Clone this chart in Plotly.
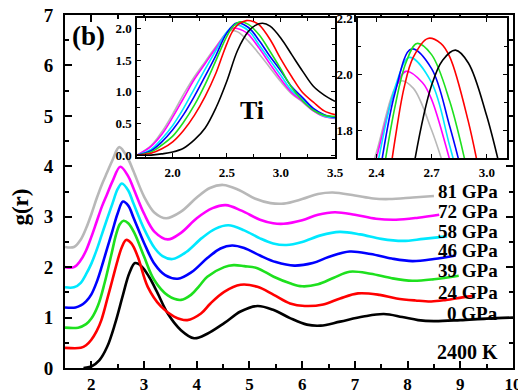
import plotly.graph_objects as go

# ---------------- data ----------------
labels = ["0 GPa", "24 GPa", "39 GPa", "46 GPa", "58 GPa", "72 GPa", "81 GPa"]
offsets = [0.0, 0.4, 0.8, 1.2, 1.6, 2.0, 2.4]
colors = ["#000000", "#ff0000", "#1ee01e", "#0000ff", "#00e8ff", "#ff00ff", "#b8b8b8"]

# main panel g(r) (before vertical offset)
r_0 = [1.85, 2.0, 2.15, 2.3, 2.45, 2.6, 2.72, 2.83, 2.95, 3.1, 3.25, 3.45, 3.7, 3.95, 4.2, 4.52, 4.83, 5.15,
       5.46, 5.77, 6.09, 6.35, 6.72, 7.16, 7.55, 7.9, 8.2, 8.5, 9.0, 9.5, 10.0]
g_0 = [0.0, 0.03, 0.15, 0.42, 0.88, 1.45, 1.88, 2.08, 2.02, 1.80, 1.50, 1.08, 0.75, 0.59, 0.68, 0.89, 1.12, 1.23,
       1.15, 0.99, 0.86, 0.84, 0.92, 1.02, 1.07, 1.01, 0.95, 0.93, 0.95, 0.98, 1.0]

r_24 = [1.5, 1.8, 1.9, 2.0, 2.1, 2.19, 2.31, 2.4, 2.5, 2.58, 2.66, 2.76, 2.88, 3.07, 3.32, 3.57, 3.82, 4.08, 4.26,
        4.52, 4.83, 5.15, 5.46, 5.77, 6.05, 6.4, 6.72, 7.06, 7.47, 7.79, 8.15, 8.45, 8.73, 9.04, 9.26]
g_24 = [0.0, 0.0, 0.05, 0.16, 0.33, 0.55, 1.0, 1.35, 1.74, 2.0, 2.14, 2.07, 1.81, 1.21, 0.82, 0.62, 0.55, 0.68, 0.88,
        1.11, 1.25, 1.21, 1.05, 0.88, 0.83, 0.86, 0.98, 1.08, 1.05, 0.98, 0.94, 0.92, 0.95, 1.0, 1.03]

r_39 = [1.5, 1.75, 1.9, 2.0, 2.13, 2.25, 2.38, 2.47, 2.54, 2.61, 2.7, 2.82, 3.0, 3.19, 3.45, 3.70, 3.89, 4.05, 4.2,
        4.52, 4.70, 4.9, 5.15, 5.46, 5.77, 6.0, 6.3, 6.6, 6.9, 7.3, 7.7, 8.09, 8.5, 8.97]
g_39 = [0.0, 0.0, 0.07, 0.18, 0.45, 0.88, 1.45, 1.85, 2.05, 2.12, 2.07, 1.87, 1.41, 0.95, 0.64, 0.55, 0.65, 0.83, 1.01,
        1.20, 1.24, 1.22, 1.18, 1.01, 0.88, 0.82, 0.86, 0.99, 1.11, 1.07, 0.98, 0.93, 0.96, 1.03]

r_46 = [1.5, 1.7, 1.8, 1.9, 2.0, 2.1, 2.2, 2.3, 2.4, 2.5, 2.6, 2.7, 2.8, 3.0, 3.2, 3.4, 3.64, 3.9, 4.2, 4.45, 4.67,
        4.9, 5.2, 5.5, 5.85, 6.2, 6.5, 6.9, 7.3, 7.7, 8.09, 8.5, 8.91]
g_46 = [0.0, 0.0, 0.04, 0.12, 0.26, 0.5, 0.82, 1.17, 1.52, 1.87, 2.10, 2.02, 1.78, 1.28, 0.86, 0.64, 0.57, 0.70, 0.98,
        1.17, 1.23, 1.18, 1.03, 0.90, 0.83, 0.88, 1.0, 1.11, 1.06, 0.97, 0.92, 0.96, 1.03]

r_58 = [1.5, 1.67, 1.8, 1.9, 2.0, 2.1, 2.2, 2.3, 2.4, 2.5, 2.58, 2.7, 2.8, 3.0, 3.2, 3.35, 3.54, 3.8, 4.1, 4.35, 4.6,
        4.9, 5.2, 5.45, 5.7, 6.0, 6.35, 6.71, 7.1, 7.5, 7.91, 8.3, 8.75]
g_58 = [0.0, 0.0, 0.09, 0.26, 0.47, 0.74, 1.05, 1.36, 1.66, 1.95, 2.06, 1.92, 1.66, 1.16, 0.78, 0.62, 0.56, 0.70, 0.98,
        1.16, 1.23, 1.13, 0.97, 0.87, 0.84, 0.90, 1.03, 1.10, 1.05, 0.96, 0.92, 0.96, 1.01]

r_72 = [1.5, 1.67, 1.8, 1.9, 2.0, 2.1, 2.2, 2.3, 2.4, 2.55, 2.7, 2.8, 3.0, 3.2, 3.45, 3.7, 4.0, 4.3, 4.55, 4.85,
        5.2, 5.45, 5.65, 6.0, 6.3, 6.62, 7.0, 7.4, 7.78, 8.2, 8.6]
g_72 = [0.0, 0.0, 0.14, 0.33, 0.6, 0.9, 1.2, 1.45, 1.7, 1.99, 1.8, 1.56, 1.06, 0.70, 0.55, 0.68, 0.97, 1.17, 1.23, 1.12,
        0.94, 0.87, 0.86, 0.93, 1.04, 1.09, 1.04, 0.96, 0.94, 0.98, 1.04]

r_81 = [1.5, 1.67, 1.8, 1.9, 2.0, 2.1, 2.2, 2.3, 2.4, 2.53, 2.7, 2.8, 3.0, 3.2, 3.42, 3.7, 4.0, 4.25, 4.5, 4.8,
        5.1, 5.4, 5.65, 6.0, 6.3, 6.58, 7.0, 7.35, 7.65, 8.1, 8.5]
g_81 = [0.0, 0.0, 0.15, 0.37, 0.65, 0.96, 1.24, 1.48, 1.72, 1.98, 1.74, 1.50, 1.0, 0.68, 0.57, 0.70, 0.98, 1.17, 1.23,
        1.13, 0.96, 0.87, 0.86, 0.95, 1.05, 1.08, 1.02, 0.96, 0.95, 0.98, 1.01]

# inset: first peak (no offset)
ir_0 = [1.67, 1.8, 1.9, 2.0, 2.1, 2.2, 2.3, 2.4, 2.5, 2.6, 2.7, 2.76, 2.83, 2.9, 3.0, 3.1, 3.2, 3.3, 3.4, 3.5]
ig_0 = [0.0, 0.0, 0.02, 0.05, 0.11, 0.24, 0.43, 0.75, 1.17, 1.66, 1.96, 2.05, 2.086, 2.04, 1.85, 1.59, 1.33, 1.09, 0.95, 0.85]

ir_24 = [1.67, 1.8, 1.9, 2.0, 2.1, 2.2, 2.3, 2.4, 2.46, 2.5, 2.55, 2.6, 2.68, 2.75, 2.8, 2.9, 3.0, 3.1, 3.2, 3.3, 3.4, 3.5]
ig_24 = [0.0, 0.03, 0.10, 0.21, 0.39, 0.63, 0.93, 1.30, 1.58, 1.76, 1.95, 2.06, 2.128, 2.11, 2.06, 1.83, 1.52, 1.24, 0.99, 0.84, 0.70, 0.64]

ir_39 = [1.67, 1.8, 1.9, 2.0, 2.1, 2.2, 2.3, 2.4, 2.5, 2.56, 2.62, 2.7, 2.8, 2.9, 3.0, 3.1, 3.2, 3.3, 3.4, 3.5]
ig_39 = [0.0, 0.05, 0.16, 0.30, 0.52, 0.79, 1.12, 1.50, 1.88, 2.04, 2.11, 2.07, 1.90, 1.64, 1.36, 1.07, 0.86, 0.71, 0.63, 0.61]

ir_46 = [1.67, 1.8, 1.9, 2.0, 2.1, 2.2, 2.3, 2.4, 2.5, 2.59, 2.7, 2.8, 2.9, 3.0, 3.1, 3.2, 3.3, 3.4, 3.5]
ig_46 = [0.0, 0.07, 0.21, 0.40, 0.64, 0.93, 1.25, 1.58, 1.93, 2.09, 2.02, 1.81, 1.56, 1.33, 1.08, 0.91, 0.74, 0.64, 0.60]

ir_58 = [1.67, 1.8, 1.9, 2.0, 2.1, 2.2, 2.3, 2.4, 2.5, 2.58, 2.7, 2.8, 2.9, 3.0, 3.1, 3.2, 3.3, 3.4, 3.5]
ig_58 = [0.0, 0.09, 0.26, 0.47, 0.74, 1.05, 1.36, 1.66, 1.95, 2.06, 1.97, 1.74, 1.50, 1.26, 1.02, 0.88, 0.72, 0.62, 0.59]

ir_72 = [1.67, 1.8, 1.9, 2.0, 2.1, 2.2, 2.3, 2.4, 2.5, 2.56, 2.65, 2.7, 2.8, 2.9, 3.0, 3.1, 3.2, 3.3, 3.4, 3.5]
ig_72 = [0.0, 0.14, 0.33, 0.60, 0.90, 1.20, 1.45, 1.70, 1.94, 2.01, 1.97, 1.91, 1.69, 1.44, 1.20, 0.99, 0.85, 0.70, 0.61, 0.58]

ir_81 = [1.67, 1.8, 1.9, 2.0, 2.1, 2.2, 2.3, 2.4, 2.53, 2.6, 2.7, 2.8, 2.9, 3.0, 3.1, 3.2, 3.3, 3.4, 3.5]
ig_81 = [0.0, 0.15, 0.37, 0.65, 0.96, 1.24, 1.48, 1.72, 1.975, 1.95, 1.80, 1.60, 1.38, 1.16, 0.97, 0.84, 0.70, 0.61, 0.59]

main_x_ticks = [2, 3, 4, 5, 6, 7, 8, 9, 10]
main_y_ticks = [0, 1, 2, 3, 4, 5, 6, 7]
inset1_x_ticks = [2.0, 2.5, 3.0, 3.5]
inset1_y_ticks = [0.0, 0.5, 1.0, 1.5, 2.0]
inset2_x_ticks = [2.4, 2.7, 3.0]
inset2_y_ticks = [1.8, 2.0, 2.2]

main_r = [r_0, r_24, r_39, r_46, r_58, r_72, r_81]
main_g = [g_0, g_24, g_39, g_46, g_58, g_72, g_81]
ins_r = [ir_0, ir_24, ir_39, ir_46, ir_58, ir_72, ir_81]
ins_g = [ig_0, ig_24, ig_39, ig_46, ig_58, ig_72, ig_81]

# ---------------- figure ----------------
SERIF = "Liberation Serif"
fig = go.Figure()

for i in range(7):
    fig.add_trace(go.Scatter(
        x=main_r[i], y=[v + offsets[i] for v in main_g[i]], mode="lines",
        line=dict(color=colors[i], width=2.6, shape="spline", smoothing=1.0),
        xaxis="x", yaxis="y", showlegend=False, hoverinfo="skip"))

for i in reversed(range(7)):
    for xa, ya in (("x2", "y2"), ("x3", "y3")):
        fig.add_trace(go.Scatter(
            x=ins_r[i], y=ins_g[i], mode="lines",
            line=dict(color=colors[i], width=1.6, shape="spline", smoothing=1.0),
            xaxis=xa, yaxis=ya, showlegend=False, hoverinfo="skip"))

tickfont_main = dict(family=SERIF, size=19, color="black", weight="bold")
tickfont_x = dict(family=SERIF, size=17, color="black", weight="bold")
tickfont_ins = dict(family=SERIF, size=13, color="black", weight="bold")

common = dict(showgrid=False, zeroline=False, showline=True, linecolor="black",
              mirror="ticks", ticks="inside", tickcolor="black", automargin=False)

fig.update_layout(
    width=518, height=384,
    margin=dict(l=57, r=13, t=7, b=24),
    paper_bgcolor="white", plot_bgcolor="white",
    xaxis=dict(domain=[0, 1], range=[1.5, 10], tickvals=main_x_ticks, ticklen=7, tickwidth=1.5,
               linewidth=2, tickfont=tickfont_x, ticklabelstandoff=0, ticklabeloverflow="allow",
               minor=dict(ticks="inside", ticklen=4, tickwidth=1.5, dtick=0.5, tick0=0, tickcolor="black"),
               **common),
    yaxis=dict(domain=[0, 1], range=[0, 7], tickvals=main_y_ticks, ticklen=7, tickwidth=1.5,
               linewidth=2, tickfont=tickfont_main, ticklabelstandoff=6, ticklabeloverflow="allow",
               minor=dict(ticks="inside", ticklen=4, tickwidth=1.5, dtick=0.5, tick0=0, tickcolor="black"),
               **common),
    xaxis2=dict(domain=[0.1607, 0.6027], anchor="y2", range=[1.67, 3.5], tickvals=inset1_x_ticks,
                tickformat=".1f", ticklen=4, tickwidth=1, linewidth=1.5, tickfont=tickfont_ins,
                minor=dict(ticks="inside", ticklen=3, dtick=0.25, tick0=0, tickcolor="black"),
                ticklabelstandoff=3, **common),
    yaxis2=dict(domain=[0.5977, 0.9915], anchor="x2", range=[-0.03, 2.17], tickvals=inset1_y_ticks,
                tickformat=".1f", ticklen=4, tickwidth=1, linewidth=1.5, tickfont=tickfont_ins,
                minor=dict(ticks="inside", ticklen=3, dtick=0.25, tick0=0, tickcolor="black"),
                ticklabelstandoff=1, **common),
    xaxis3=dict(domain=[0.654, 0.9866], anchor="y3", range=[2.3, 3.11], tickvals=inset2_x_ticks,
                tickformat=".1f", ticklen=4, tickwidth=1, linewidth=1.5, tickfont=tickfont_ins,
                ticklabelstandoff=2, **common),
    yaxis3=dict(domain=[0.5949, 0.9915], anchor="x3", range=[1.7, 2.201], tickvals=inset2_y_ticks,
                tickformat=".1f", ticklen=4, tickwidth=1, linewidth=1.5, tickfont=tickfont_ins,
                ticklabeloverflow="allow",
                minor=dict(ticks="inside", ticklen=3, dtick=0.1, tick0=0, tickcolor="black"),
                ticklabelstandoff=1, **common),
)

ann_font = dict(family=SERIF, color="black", weight="bold")
label_y = [1.09, 1.49, 1.94, 2.34, 2.70, 3.10, 3.51]
for i in range(7):
    fig.add_annotation(x=9.76, y=label_y[i], xref="x", yref="y", text=labels[i], showarrow=False,
                       xanchor="right", yanchor="middle", font=dict(size=19, **ann_font))
fig.add_annotation(x=9.76, y=0.32, xref="x", yref="y", text="2400 K", showarrow=False,
                   xanchor="right", yanchor="middle", font=dict(size=20, **ann_font))
fig.add_annotation(x=0.011, y=0.94, xref="paper", yref="paper", text="(b)", showarrow=False,
                   xanchor="left", yanchor="middle", font=dict(size=27, **ann_font))
fig.add_annotation(x=-0.1, y=0.455, xref="paper", yref="paper", text="g(r)", showarrow=False,
                   textangle=-90, xanchor="center", yanchor="middle", font=dict(size=23, **ann_font))
fig.add_annotation(x=2.73, y=0.71, xref="x2", yref="y2", text="Ti", showarrow=False,
                   xanchor="center", yanchor="middle", font=dict(size=26, **ann_font))

fig.write_html("out.html")
